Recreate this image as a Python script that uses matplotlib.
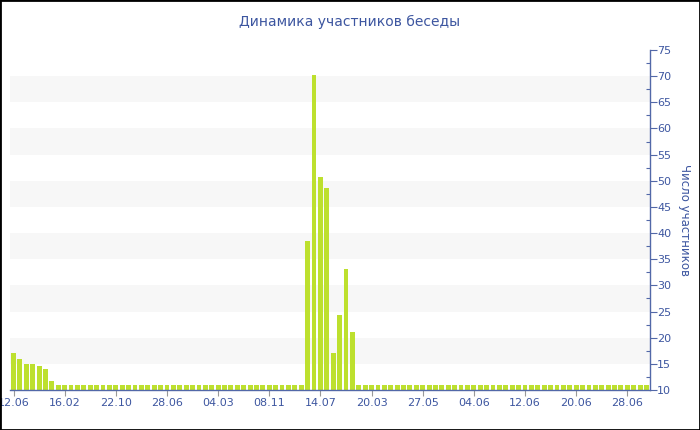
import numpy as np
import matplotlib
matplotlib.use('Agg')
import matplotlib.pyplot as plt
from matplotlib.patches import Rectangle

# ── Data ─────────────────────────────────────────────────────
head_values = [17, 16, 15, 15, 14.5, 14, 11.8]
peak_values = [38.5, 70.3, 50.7, 48.7, 17, 24.4, 33.1, 21]
base_value = 11
n_bars = 100
peak_start = 46

tick_positions = [0, 8, 16, 24, 32, 40, 48, 56, 64, 72, 80, 88, 96]
tick_labels = ['12.06', '16.02', '22.10', '28.06', '04.03', '08.11', '14.07',
               '20.03', '27.05', '04.06', '12.06', '20.06', '28.06']

title = 'Динамика участников беседы'
ylabel = 'Число участников'

values = [base_value] * n_bars
values[:len(head_values)] = head_values
values[peak_start:peak_start + len(peak_values)] = peak_values

# ── Style ────────────────────────────────────────────────────
TEXT = '#3d56a0'
AXIS = '#5268a8'
BAR = '#bde02e'
BAND = '#f7f7f7'

fig = plt.figure(figsize=(7, 4.3), dpi=100)
ax = fig.add_axes([10/700, 40/430, 640/700, 340/430])

ymin, ymax = 10, 75
for lo in range(15, 70, 10):
    ax.axhspan(lo, lo + 5, color=BAND, zorder=0, lw=0)

x = np.arange(n_bars)
ax.bar(x, np.array(values) - ymin, bottom=ymin, width=0.76, color=BAR, zorder=2)

ax.set_xlim(-0.55, n_bars - 0.45)
ax.set_ylim(ymin, ymax)

ax.set_xticks(tick_positions)
ax.set_xticklabels(tick_labels)
ax.tick_params(axis='x', colors='#999999', labelcolor=TEXT, labelsize=8,
               length=4, width=0.8, pad=2)

ax.yaxis.tick_right()
ax.yaxis.set_label_position('right')
ax.set_yticks(np.arange(10, 76, 5))
ax.set_yticks(np.arange(10, 76, 2.5), minor=True)
ax.tick_params(axis='y', which='major', colors=AXIS, labelcolor=TEXT,
               labelsize=8, length=5, width=0.8, pad=0)
ax.tick_params(axis='y', which='minor', colors=AXIS, length=3, width=0.8,
               direction='in')
ax.set_ylabel(ylabel, color=TEXT, fontsize=8.5, rotation=-90, labelpad=14)

for side in ['left', 'top']:
    ax.spines[side].set_visible(False)
ax.spines['right'].set_color(AXIS)
ax.spines['bottom'].set_color(AXIS)
ax.spines['right'].set_linewidth(1)
ax.spines['bottom'].set_linewidth(1)
ax.set_facecolor('white')

fig.text(350/700, 1 - 22/430, title, ha='center', va='center',
         color=TEXT, fontsize=10)

# black frame round the whole picture
fig.patches.append(Rectangle((0, 0), 1, 1, transform=fig.transFigure,
                             fill=False, edgecolor='black', lw=2))

fig.savefig('out.png', dpi=100)
